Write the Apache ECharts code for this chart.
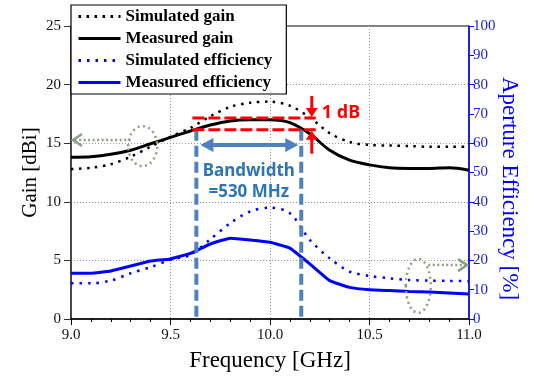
<!DOCTYPE html>
<html>
<head>
<meta charset="utf-8">
<script src="https://cdn.jsdelivr.net/npm/echarts@6/dist/echarts.min.js"></script>
<style>html,body{margin:0;padding:0;background:#fff}#c{width:535px;height:378px}</style>
</head>
<body>
<div id="c"></div>
<script>
const freqs = [9.0,9.1,9.2,9.3,9.4,9.5,9.6,9.7,9.8,9.9,10.0,10.1,10.2,10.3,10.4,10.5,10.6,10.7,10.8,10.9,11.0];
const simGain = [12.8,12.9,13.2,13.85,14.7,15.55,16.3,17.3,18.1,18.45,18.55,18.2,17.2,15.85,15.1,14.85,14.8,14.75,14.7,14.7,14.7];
const measGain = [13.8,13.85,14.05,14.4,14.95,15.5,16.04,16.55,16.9,17.0,17.0,16.75,15.8,14.4,13.55,13.15,12.9,12.85,12.85,12.9,12.7];
const simEff = [12.2,12.2,13.1,15.6,17.7,20.2,21.9,27.2,32.7,36.7,38.0,36.1,27.0,20.7,16.2,14.7,13.9,13.3,13.1,13.0,12.9];
const measEff = [15.6,15.6,16.4,18.1,19.8,20.5,22.4,25.6,27.6,27.0,26.2,24.2,18.8,13.1,10.8,10.0,9.7,9.4,9.2,8.9,8.5];
const seriesNames = ['Simulated gain','Measured gain','Simulated efficiency','Measured efficiency'];
// annotation values (data units)
const bwLow = 9.63, bwHigh = 10.157;
const gainTop = 17.15, gainBot = 16.15;

const serif = 'Liberation Serif';
const chart = echarts.init(document.getElementById('c'));
function pairs(ys){ return freqs.map((f,i)=>[f, ys[i]]); }

chart.setOption({
  animation: false,
  grid: {left: 71, right: 66, top: 26, bottom: 59, show: true, borderColor: '#000', borderWidth: 1},
  legend: {
    left: 71, top: 5, orient: 'vertical', backgroundColor: '#fff', borderColor: '#000', borderWidth: 1.2,
    padding: [3, 14, 3, 6], itemGap: 5, itemWidth: 42, itemHeight: 18, borderRadius: 0,
    itemStyle: {opacity: 0}, lineStyle: {width: 3},
    textStyle: {fontFamily: serif, fontWeight: 'bold', fontSize: 17, color: '#000'},
    data: seriesNames
  },
  xAxis: {
    type: 'value', min: 9, max: 11, interval: 0.5,
    name: 'Frequency [GHz]', nameLocation: 'middle', nameGap: 30, nameMoveOverlap: false,
    nameTextStyle: {fontFamily: serif, fontSize: 23, color: '#000'},
    axisLine: {lineStyle: {color: '#000', width: 1.5}},
    axisTick: {show: true, length: 6, lineStyle: {color: '#000', width: 1}},
    minorTick: {show: true, splitNumber: 5, length: 3, lineStyle: {color: '#000'}},
    axisLabel: {fontFamily: serif, fontSize: 15, color: '#111', margin: 9, formatter: v => v.toFixed(1)},
    splitLine: {show: true, lineStyle: {color: '#999', type: [1, 2], width: 1}}
  },
  yAxis: [{
    type: 'value', min: 0, max: 25, interval: 5, position: 'left',
    name: 'Gain [dBi]', nameLocation: 'middle', nameGap: 30, nameMoveOverlap: false,
    nameTextStyle: {fontFamily: serif, fontSize: 21, color: '#000'},
    axisLine: {show: true, lineStyle: {color: '#333', width: 1.5}},
    axisTick: {show: true, length: 7, lineStyle: {color: '#333'}},
    axisLabel: {fontFamily: serif, fontSize: 15, color: '#111', margin: 10},
    splitLine: {show: true, lineStyle: {color: '#999', type: [1, 2], width: 1}}
  }, {
    type: 'value', min: 0, max: 100, interval: 10, position: 'right',
    name: 'Aperture Efficiency [%]', nameLocation: 'middle', nameGap: 29, nameRotate: -90, nameMoveOverlap: false,
    nameTextStyle: {fontFamily: serif, fontSize: 23, color: '#0000ff', padding: [0, 0, 0, 32]},
    axisLine: {show: true, lineStyle: {color: '#0000ff', width: 1.5}},
    axisTick: {show: true, length: 5, lineStyle: {color: '#0000ff'}},
    axisLabel: {fontFamily: serif, fontSize: 15, color: '#1a1ae6', margin: 4},
    splitLine: {show: false}
  }],
  series: [
    {name: seriesNames[0], type: 'line', yAxisIndex: 0, data: pairs(simGain), symbol: 'none', smooth: 0.3,
     lineStyle: {color: '#000', width: 2.5, type: [2.5, 5.5]}, itemStyle: {color: '#000'}},
    {name: seriesNames[1], type: 'line', yAxisIndex: 0, data: pairs(measGain), symbol: 'none', smooth: 0.3,
     lineStyle: {color: '#000', width: 3}, itemStyle: {color: '#000'}},
    {name: seriesNames[2], type: 'line', yAxisIndex: 1, data: pairs(simEff), symbol: 'none', smooth: 0.3,
     lineStyle: {color: '#0000ff', width: 2.5, type: [2.5, 6]}, itemStyle: {color: '#0000ff'}},
    {name: seriesNames[3], type: 'line', yAxisIndex: 1, data: pairs(measEff), symbol: 'none', smooth: 0.1,
     lineStyle: {color: '#0000ff', width: 3}, itemStyle: {color: '#0000ff'}}
  ]
});

function X(f){ return chart.convertToPixel({xAxisIndex: 0}, f); }
function YG(g){ return chart.convertToPixel({yAxisIndex: 0}, g); }
function YE(e){ return chart.convertToPixel({yAxisIndex: 1}, e); }

const steel = '#4F81BD', red = '#FF0000', olive = '#8E9E80';
const g = [];
const xl = X(bwLow), xh = X(bwHigh), y0 = YG(0);
const yT = YG(gainTop), yB = YG(gainBot);
// vertical bandwidth dashed lines
[xl, xh].forEach(x => g.push({type: 'line', z: 100, shape: {x1: x, y1: yB, x2: x, y2: y0},
  style: {stroke: steel, lineWidth: 4, lineDash: [11, 5]}}));
// red dashed 1 dB lines
const rx1 = X(9.61), rx2 = X(10.23);
[yT, yB].forEach(y => g.push({type: 'line', z: 101, shape: {x1: rx1, y1: y, x2: rx2, y2: y},
  style: {stroke: red, lineWidth: 3, lineDash: [12, 4]}}));
// red arrows
const ax = X(10.21);
g.push({type: 'line', z: 102, shape: {x1: ax, y1: yT - 22, x2: ax, y2: yT - 8}, style: {stroke: red, lineWidth: 3}});
g.push({type: 'polygon', z: 102, shape: {points: [[ax - 6, yT - 10], [ax + 6, yT - 10], [ax, yT - 1]]}, style: {fill: red}});
g.push({type: 'line', z: 102, shape: {x1: ax, y1: yB + 24, x2: ax, y2: yB + 8}, style: {stroke: red, lineWidth: 3}});
g.push({type: 'polygon', z: 102, shape: {points: [[ax - 6, yB + 10], [ax + 6, yB + 10], [ax, yB + 1]]}, style: {fill: red}});
g.push({type: 'text', z: 103, style: {text: '1 dB', x: ax + 10, y: yT - 5, fill: red,
  font: 'bold 18px "Noto Sans"', textVerticalAlign: 'middle', textAlign: 'left'}});
// double arrow
const ya = YG(14.85), ax1 = xl + 4, ax2 = xh - 3;
g.push({type: 'line', z: 102, shape: {x1: ax1 + 10, y1: ya, x2: ax2 - 10, y2: ya}, style: {stroke: steel, lineWidth: 4}});
g.push({type: 'polygon', z: 102, shape: {points: [[ax1, ya], [ax1 + 13, ya - 7], [ax1 + 13, ya + 7]]}, style: {fill: steel}});
g.push({type: 'polygon', z: 102, shape: {points: [[ax2, ya], [ax2 - 13, ya - 7], [ax2 - 13, ya + 7]]}, style: {fill: steel}});
// bandwidth text
const xc = (xl + xh) / 2;
g.push({type: 'text', z: 103, style: {text: 'Bandwidth', x: xc, y: YG(12.6), fill: '#2E75B6',
  font: 'bold 17px "Noto Sans"', textAlign: 'center', textVerticalAlign: 'middle'}});
g.push({type: 'text', z: 103, style: {text: '=530 MHz', x: xc, y: YG(10.8), fill: '#2E75B6',
  font: 'bold 17px "Noto Sans"', textAlign: 'center', textVerticalAlign: 'middle'}});
// ellipse 1 + arrow to left axis
const e1x = X(9.36), e1y = YG(14.75);
g.push({type: 'ellipse', z: 99, shape: {cx: e1x, cy: e1y, rx: 14.5, ry: 20}, style: {fill: 'none', stroke: olive, lineWidth: 2.5, lineDash: [2, 3.5]}});
const a1y = YG(15.27), a1s = e1x - 12, a1e = X(9.0) + 2;
g.push({type: 'line', z: 99, shape: {x1: a1s, y1: a1y, x2: a1e + 2, y2: a1y}, style: {stroke: olive, lineWidth: 2.5, lineDash: [2, 2.5]}});
g.push({type: 'polyline', z: 99, shape: {points: [[a1e + 9, a1y - 6], [a1e, a1y], [a1e + 9, a1y + 6]]}, style: {stroke: olive, lineWidth: 2.5, fill: 'none'}});
// ellipse 2 + arrow to right axis
const e2x = X(10.745), e2y = YE(11.3);
g.push({type: 'ellipse', z: 99, shape: {cx: e2x, cy: e2y, rx: 12.5, ry: 27}, style: {fill: 'none', stroke: olive, lineWidth: 2.5, lineDash: [2, 3.5]}});
const a2y = YE(18.4), a2s = e2x + 10, a2e = X(11.0) - 2;
g.push({type: 'line', z: 99, shape: {x1: a2s, y1: a2y, x2: a2e - 2, y2: a2y}, style: {stroke: olive, lineWidth: 2.5, lineDash: [2, 2.5]}});
g.push({type: 'polyline', z: 99, shape: {points: [[a2e - 9, a2y - 6], [a2e, a2y], [a2e - 9, a2y + 6]]}, style: {stroke: olive, lineWidth: 2.5, fill: 'none'}});

chart.setOption({graphic: g});
</script>
</body>
</html>
